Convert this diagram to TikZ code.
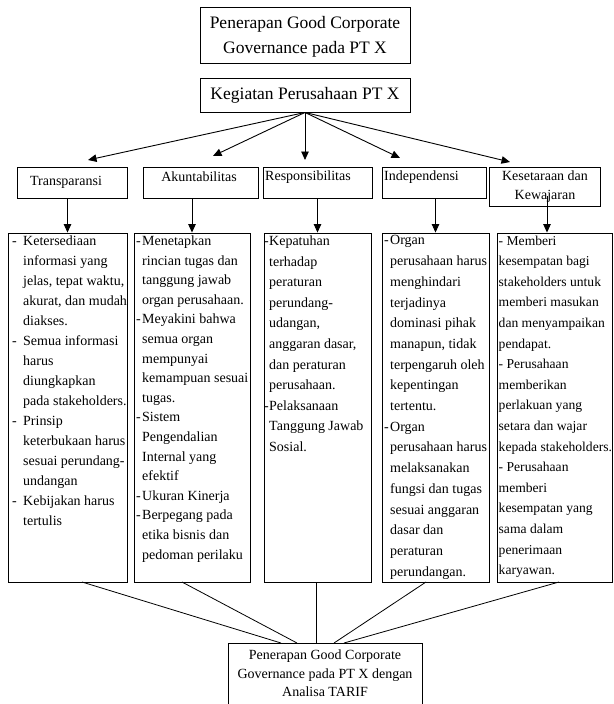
\documentclass[tikz,border=0pt]{standalone}
\usepackage{fontspec}
\setmainfont{Liberation Serif}
\usetikzlibrary{arrows.meta,fit}
\newcommand\itdash[1]{\makebox[#1][l]{-}}
\newcommand\itind[1]{\hspace*{#1}}
\begin{document}
\begin{tikzpicture}[x=1pt,y=-1pt,
  box/.style={draw, line width=0.9pt, inner sep=0pt, fit={#1}},
  big/.style={font=\fontsize{17.5}{25}\selectfont, align=center, inner sep=0pt},
  lbl/.style={font=\fontsize{14}{19}\selectfont, align=center, inner sep=0pt},
  body/.style={font=\fontsize{14}{#1}\selectfont, align=left, inner sep=0pt, anchor=north west},
  arr/.style={line width=0.9pt, -{Triangle[length=8.5pt,width=7.5pt]}},
  ln/.style={line width=0.8pt}]
\fill[white] (0,0) rectangle (613,704);
\useasboundingbox (0,0) rectangle (613,704);
\clip (0,0) rectangle (613,704);

% top boxes
\node[box={(200,7)(410,63)}] (top) {};
\node[big] (toptxt) at (305,37) {Penerapan Good Corporate\\Governance pada PT X};
\node[box={(200,78)(410,112)}] (keg) {};
\node[big] (kegtxt) at (305,95) {Kegiatan Perusahaan PT X};

% level 2
\node[box={(17,167)(127,198)}] (t2) {};
\node[lbl] (t2txt) at (66,182) {Transparansi};
\node[box={(143,167)(258,198)}] (a2) {};
\node[lbl] (a2txt) at (199,177) {Akuntabilitas};
\node[box={(263,167)(372,198)}] (r2) {};
\node[lbl, anchor=west] (r2txt) at (265,177) {Responsibilitas};
\node[box={(382,167)(486,198)}] (i2) {};
\node[lbl, anchor=west] (i2txt) at (384,177) {Independensi};
\node[box={(489,167)(600,206)}] (k2) {};
\node[lbl] (k2txt) at (545,187) {Kesetaraan dan\\Kewajaran};

% arrow tips to level 2
\coordinate (tT) at (88,160);
\coordinate (tA) at (213,156);
\coordinate (tR) at (305,160);
\coordinate (tI) at (400,158);
\coordinate (tK) at (510,162);
\draw[arr] (keg.south) -- (tT);
\draw[arr] (keg.south) -- (tA);
\draw[arr] (keg.south) -- (tR);
\draw[arr] (keg.south) -- (tI);
\draw[arr] (keg.south) -- (tK);

% level 3
\node[box={(8,233)(127,582)}] (t3) {};
\node[box={(134,233)(250,582)}] (a3) {};
\node[box={(264,233)(371,582)}] (r3) {};
\node[box={(382,233)(489,582)}] (i3) {};
\node[box={(497,233)(612,582)}] (k3) {};

\node[body=20] (t3txt) at (12,235.5) {%
\itdash{11pt}Ketersediaan\\
\itind{11pt}informasi yang\\
\itind{11pt}jelas, tepat waktu,\\
\itind{11pt}akurat, dan mudah\\
\itind{11pt}diakses.\\
\itdash{11pt}Semua informasi\\
\itind{11pt}harus\\
\itind{11pt}diungkapkan\\
\itind{11pt}pada stakeholders.\\
\itdash{11pt}Prinsip\\
\itind{11pt}keterbukaan harus\\
\itind{11pt}sesuai perundang-\\
\itind{11pt}undangan\\
\itdash{11pt}Kebijakan harus\\
\itind{11pt}tertulis};

\node[body=19.6] (a3txt) at (136,235.5) {%
\itdash{6pt}Menetapkan\\
\itind{6pt}rincian tugas dan\\
\itind{6pt}tanggung jawab\\
\itind{6pt}organ perusahaan.\\
\itdash{6pt}Meyakini bahwa\\
\itind{6pt}semua organ\\
\itind{6pt}mempunyai\\
\itind{6pt}kemampuan sesuai\\
\itind{6pt}tugas.\\
\itdash{6pt}Sistem\\
\itind{6pt}Pengendalian\\
\itind{6pt}Internal yang\\
\itind{6pt}efektif\\
\itdash{6pt}Ukuran Kinerja\\
\itdash{6pt}Berpegang pada\\
\itind{6pt}etika bisnis dan\\
\itind{6pt}pedoman perilaku};

\node[body=20.6] (r3txt) at (264,235.5) {%
\itdash{5pt}Kepatuhan\\
\itind{5pt}terhadap\\
\itind{5pt}peraturan\\
\itind{5pt}perundang-\\
\itind{5pt}udangan,\\
\itind{5pt}anggaran dasar,\\
\itind{5pt}dan peraturan\\
\itind{5pt}perusahaan.\\
\itdash{5pt}Pelaksanaan\\
\itind{5pt}Tanggung Jawab\\
\itind{5pt}Sosial.};

\node[body=20.7] (i3txt) at (384,235.5) {%
\itdash{6pt}Organ\\
\itind{6pt}perusahaan harus\\
\itind{6pt}menghindari\\
\itind{6pt}terjadinya\\
\itind{6pt}dominasi pihak\\
\itind{6pt}manapun, tidak\\
\itind{6pt}terpengaruh oleh\\
\itind{6pt}kepentingan\\
\itind{6pt}tertentu.\\
\itdash{6pt}Organ\\
\itind{6pt}perusahaan harus\\
\itind{6pt}melaksanakan\\
\itind{6pt}fungsi dan tugas\\
\itind{6pt}sesuai anggaran\\
\itind{6pt}dasar dan\\
\itind{6pt}peraturan\\
\itind{6pt}perundangan.};

\node[body=20.6, font=\fontsize{13.6}{20.6}\selectfont] (k3txt) at (498.5,235.5) {%
- Memberi\\
kesempatan bagi\\
stakeholders untuk\\
memberi masukan\\
dan menyampaikan\\
pendapat.\\
- Perusahaan\\
memberikan\\
perlakuan yang\\
setara dan wajar\\
kepada stakeholders.\\
- Perusahaan\\
memberi\\
kesempatan yang\\
sama dalam\\
penerimaan\\
karyawan.};

% arrows level 2 -> level 3
\coordinate (kx) at (547,196);
\draw[arr] (t2.south -| t3.north) -- (t3.north);
\draw[arr] (a2.south -| a3.north) -- (a3.north);
\draw[arr] (r2.south -| r3.north) -- (r3.north);
\draw[arr] (i2.south -| i3.north) -- (i3.north);
\draw[arr] (kx) -- (kx |- k3.north);

% bottom box
\node[box={(228,643)(422,712)}] (bot) {};
\node[lbl, font=\fontsize{14}{18.5}\selectfont] (bottxt) at (325,673.5) {Penerapan Good Corporate\\Governance pada PT X dengan\\Analisa TARIF};

\coordinate (sT) at (82,582);
\coordinate (sA) at (182,582);
\coordinate (sR) at (316,582);
\coordinate (sI) at (426,582);
\coordinate (sK) at (559,582);
\coordinate (eT) at (281,643);
\coordinate (eA) at (297,643);
\coordinate (eR) at (316,643);
\coordinate (eI) at (334,643);
\coordinate (eK) at (344,643);
\draw[ln] (sT) -- (eT);
\draw[ln] (sA) -- (eA);
\draw[ln] (sR) -- (eR);
\draw[ln] (sI) -- (eI);
\draw[ln] (sK) -- (eK);
\end{tikzpicture}
\end{document}
